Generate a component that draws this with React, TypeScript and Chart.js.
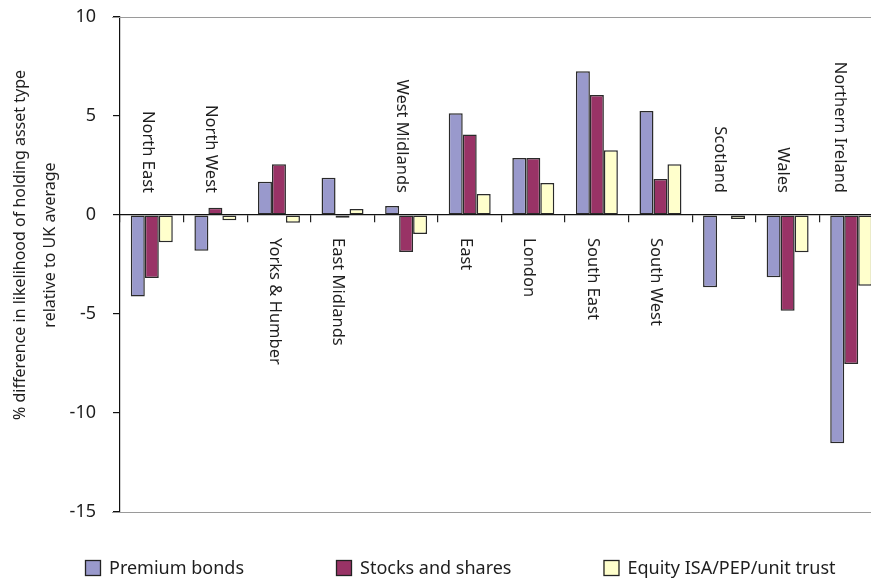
import React, { useEffect, useRef } from "react";
import { Chart, registerables } from "chart.js";

Chart.register(...registerables);

const categories = [
  "North East",
  "North West",
  "Yorks & Humber",
  "East Midlands",
  "West Midlands",
  "East",
  "London",
  "South East",
  "South West",
  "Scotland",
  "Wales",
  "Northern Ireland",
];
const premiumBonds = [-4.12, -1.8, 1.68, 1.88, 0.45, 5.14, 2.88, 7.26, 5.25, -3.65, -3.15, -11.53];
const stocksShares = [-3.18, 0.37, 2.56, -0.14, -1.87, 4.06, 2.88, 6.06, 1.82, 0, -4.83, -7.53];
const equityIsa = [-1.38, -0.27, -0.39, 0.3, -0.96, 1.06, 1.62, 3.27, 2.56, -0.2, -1.88, -3.57];
const labelSide = ["above", "above", "below", "below", "above", "below", "below", "below", "below", "above", "above", "above"];
const seriesNames = ["Premium bonds", "Stocks and shares", "Equity ISA/PEP/unit trust"];
const seriesColors = ["#9999CC", "#993366", "#FFFFCC"];
const yTitleLines = ["% difference in likelihood of holding asset type", "relative to UK average"];

const FONT = "'Noto Sans', 'DejaVu Sans', sans-serif";
const TEXT = "#1e1e1e";

const decorPlugin = {
  id: "decor",
  beforeDatasetsDraw(chart: any) {
    const { ctx, chartArea } = chart;
    ctx.save();
    ctx.strokeStyle = "#9a9a9a";
    ctx.lineWidth = 1.2;
    [chartArea.top, chartArea.bottom].forEach((y: number) => {
      ctx.beginPath();
      ctx.moveTo(chartArea.left - 8, Math.round(y) + 0.5);
      ctx.lineTo(chart.width, Math.round(y) + 0.5);
      ctx.stroke();
    });
    ctx.restore();
  },
  afterDatasetsDraw(chart: any) {
    const { ctx } = chart;
    const xs = chart.scales.x;
    const ys = chart.scales.y;
    const y0 = ys.getPixelForValue(0);
    ctx.save();
    ctx.fillStyle = TEXT;
    ctx.font = `16.5px ${FONT}`;
    ctx.textBaseline = "middle";
    categories.forEach((c, i) => {
      const dx = i === categories.length - 1 ? -12 : -4.5;
      const x = xs.getPixelForValue(i) + dx;
      ctx.save();
      if (labelSide[i] === "above") {
        ctx.translate(x, y0 - 22);
        ctx.rotate(Math.PI / 2);
        ctx.textAlign = "right";
      } else {
        ctx.translate(x, y0 + 23);
        ctx.rotate(Math.PI / 2);
        ctx.textAlign = "left";
      }
      ctx.fillText(c, 0, 0);
      ctx.restore();
    });

    // y axis title
    ctx.font = `16px ${FONT}`;
    ctx.textAlign = "center";
    const cy = 245;
    [20, 50].forEach((x, i) => {
      ctx.save();
      ctx.translate(x, cy);
      ctx.rotate(-Math.PI / 2);
      ctx.fillText(yTitleLines[i], 0, 0);
      ctx.restore();
    });

    // legend
    ctx.font = `18px ${FONT}`;
    ctx.textAlign = "left";
    let lx = 85;
    const ly = 568;
    seriesNames.forEach((name, i) => {
      ctx.fillStyle = seriesColors[i];
      ctx.fillRect(lx, ly - 8, 16, 16);
      ctx.strokeStyle = "#222";
      ctx.lineWidth = 1.3;
      ctx.strokeRect(lx + 0.5, ly - 7.5, 15, 15);
      ctx.fillStyle = TEXT;
      ctx.fillText(name, lx + 24, ly + 1);
      lx += 24 + ctx.measureText(name).width + 92;
    });
    ctx.restore();
  },
};

export default function App() {
  const ref = useRef<HTMLCanvasElement | null>(null);
  useEffect(() => {
    if (!ref.current) return;
    const data = [premiumBonds, stocksShares, equityIsa];
    const chart = new Chart(ref.current, {
      type: "bar",
      data: {
        labels: categories,
        datasets: seriesNames.map((n, i) => ({
          label: n,
          data: data[i],
          backgroundColor: seriesColors[i],
          borderColor: "#2a2a2a",
          borderWidth: 1.5,
          borderSkipped: false,
          categoryPercentage: 0.66,
          barPercentage: 1,
        })),
      },
      options: {
        responsive: false,
        animation: false,
        devicePixelRatio: 1,
        layout: { padding: { left: 0, top: 17, right: 17, bottom: 72 } },
        plugins: { legend: { display: false }, tooltip: { enabled: false } },
        scales: {
          x: {
            position: { y: 0 } as any,
            ticks: { display: false },
            grid: {
              display: true,
              drawOnChartArea: false,
              drawTicks: true,
              tickLength: 7,
              offset: true,
              color: "#222",
              lineWidth: 1.2,
            },
            border: { display: true, color: "#111", width: 1.2 },
            afterFit: (s: any) => {
              s.height = 0;
              s.paddingTop = 0;
              s.paddingBottom = 0;
            },
          },
          y: {
            min: -15,
            max: 10,
            ticks: {
              stepSize: 5,
              padding: 17,
              color: TEXT,
              font: { family: FONT, size: 18 },
            },
            grid: {
              display: true,
              drawOnChartArea: false,
              drawTicks: true,
              tickLength: 7,
              color: "#111",
              lineWidth: 1.2,
            },
            border: { display: true, color: "#111", width: 1.2 },
            afterFit: (s: any) => {
              s.width = 120;
              s.paddingTop = 0;
              s.paddingBottom = 0;
            },
          },
        },
      },
      plugins: [decorPlugin],
    });
    return () => chart.destroy();
  }, []);
  return (
    <div style={{ position: "fixed", left: 0, top: 0, width: 871, height: 584, overflow: "hidden", background: "#fff" }}>
      <canvas ref={ref} width={900} height={584} style={{ display: "block" }} />
    </div>
  );
}
